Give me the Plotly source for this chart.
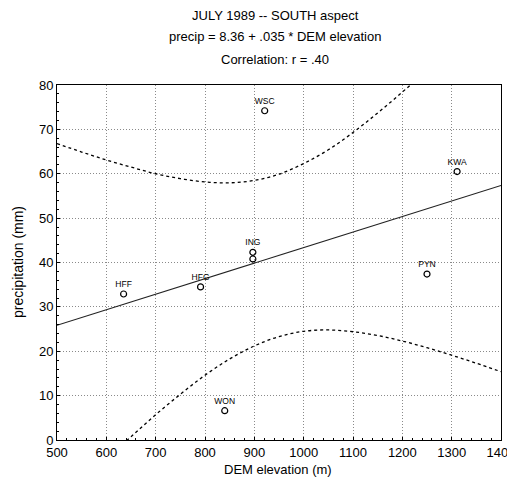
import plotly.graph_objects as go

# Station data (DEM elevation in m, precipitation in mm)
stations = ["WSC", "KWA", "ING", "ING2", "HFG", "HFF", "PYN", "WON"]
labels = ["WSC", "KWA", "ING", "", "HFG", "HFF", "PYN", "WON"]
elev = [921, 1311, 897, 897, 791, 635, 1250, 840]
precip = [74.2, 60.5, 42.3, 40.8, 34.5, 32.9, 37.4, 6.6]

# Regression line end points
line_x = [500, 1400]
line_y = [25.86, 57.36]

# Confidence band curves
band_x = [500, 550, 600, 650, 700, 750, 800, 850, 900, 950, 1000, 1050,
          1100, 1150, 1200, 1250, 1300, 1350, 1400]
upper_y = [66.8, 64.9, 63.1, 61.5, 60.0, 58.9, 58.15, 57.96, 58.5, 59.9,
           62.3, 65.4, 69.3, 73.7, 78.4, 83.4, 88.6, 93.9, 99.4]
lower_y = [-15.1, -9.7, -4.4, 0.74, 5.7, 10.3, 14.6, 18.26, 21.2, 23.3,
           24.5, 24.8, 24.4, 23.55, 22.3, 20.8, 19.1, 17.3, 15.4]

x_ticks = [500, 600, 700, 800, 900, 1000, 1100, 1200, 1300, 1400]
y_ticks = [0, 10, 20, 30, 40, 50, 60, 70, 80]

FONT = "Liberation Sans, Arial, Helvetica, sans-serif"

fig = go.Figure()

fig.add_trace(go.Scatter(x=band_x, y=upper_y, mode="lines", line_shape="spline",
                         line=dict(color="black", width=1.3, dash="dot"),
                         showlegend=False, hoverinfo="skip"))
fig.add_trace(go.Scatter(x=band_x, y=lower_y, mode="lines", line_shape="spline",
                         line=dict(color="black", width=1.3, dash="dot"),
                         showlegend=False, hoverinfo="skip"))
fig.add_trace(go.Scatter(x=line_x, y=line_y, mode="lines",
                         line=dict(color="#222222", width=1.1),
                         showlegend=False))
fig.add_trace(go.Scatter(x=elev, y=precip, mode="markers+text", text=labels,
                         textposition="top center",
                         textfont=dict(family=FONT, size=8.5, color="black"),
                         marker=dict(symbol="circle-open", size=6,
                                     color="black", line=dict(width=1.2)),
                         cliponaxis=False, showlegend=False))

axis_common = dict(
    showline=True, linecolor="black", linewidth=1, mirror=True,
    showgrid=True, gridcolor="#8a8a8a", gridwidth=1, griddash="1px,2px",
    zeroline=False, ticks="inside", ticklen=3, tickcolor="black",
    tickfont=dict(family=FONT, size=13, color="black"),
    automargin=False,
)

fig.update_xaxes(range=[500, 1400], tickvals=x_ticks,
                 ticklabeloverflow="allow",
                 minor=dict(dtick=20, ticks="inside", ticklen=2,
                            tickcolor="black", showgrid=False),
                 **axis_common)
fig.update_yaxes(range=[0, 80], tickvals=y_ticks,
                 minor=dict(dtick=2, ticks="inside", ticklen=2,
                            tickcolor="black", showgrid=False),
                 **axis_common)

# page-pixel geometry of the plot area (page has an 8px body margin)
PLOT_TOP, PLOT_BOT = 85, 440
PLOT_LEFT, PLOT_RIGHT = 57, 501
def py(px):
    return (PLOT_BOT - px) / (PLOT_BOT - PLOT_TOP)
def pxf(px):
    return (px - PLOT_LEFT) / (PLOT_RIGHT - PLOT_LEFT)

titles = ["JULY 1989 -- SOUTH aspect",
          "precip = 8.36 + .035 * DEM elevation",
          "Correlation: r = .40"]
title_y_px = [15, 37, 59]
for t, ypx in zip(titles, title_y_px):
    fig.add_annotation(text=t, xref="paper", yref="paper",
                       x=pxf(275), y=py(ypx),
                       xanchor="center", yanchor="middle", showarrow=False,
                       font=dict(family=FONT, size=13, color="black"))

# Axis titles
fig.add_annotation(text="DEM elevation (m)", xref="paper", yref="paper",
                   x=pxf(278), y=py(470), xanchor="center", yanchor="middle",
                   showarrow=False,
                   font=dict(family=FONT, size=13, color="black"))
fig.add_annotation(text="precipitation (mm)", xref="paper", yref="paper",
                   x=pxf(18), y=py(262), textangle=-90,
                   xanchor="center", yanchor="middle", showarrow=False,
                   font=dict(family=FONT, size=14, color="black"))

fig.update_layout(
    width=507, height=473,
    margin=dict(l=49, r=14, t=77, b=41, autoexpand=False),
    plot_bgcolor="white", paper_bgcolor="white",
    showlegend=False,
)

fig.write_html("out.html")
